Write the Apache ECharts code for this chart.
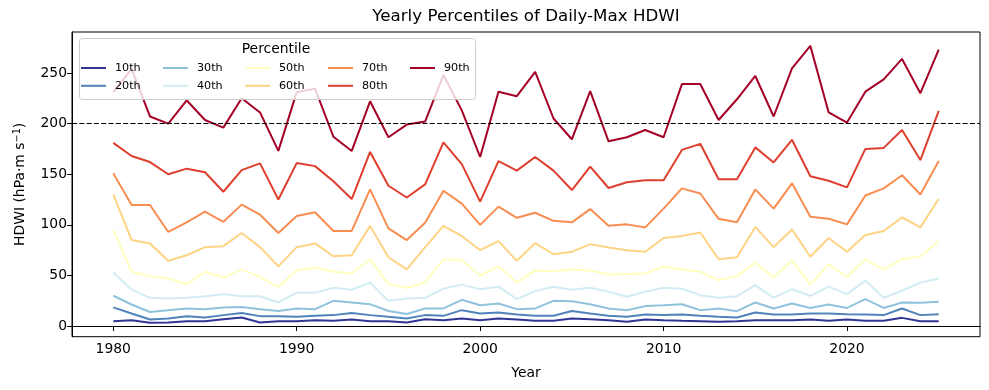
<!DOCTYPE html>
<html><head><meta charset="utf-8">
<script src="https://cdn.jsdelivr.net/npm/echarts@6/dist/echarts.min.js"></script>
<style>html,body{margin:0;padding:0;background:#fff}#c{width:989px;height:390px}</style>
</head><body><div id="c"></div>
<script>
const years = [1980,1981,1982,1983,1984,1985,1986,1987,1988,1989,1990,1991,1992,1993,1994,1995,1996,1997,1998,1999,2000,2001,2002,2003,2004,2005,2006,2007,2008,2009,2010,2011,2012,2013,2014,2015,2016,2017,2018,2019,2020,2021,2022,2023,2024,2025];
const p10 = [4.9,5.9,3.3,3.6,4.9,4.9,6.9,8.6,3.6,4.9,4.9,5.9,5.3,6.6,4.9, 4.9,3.6,6.9,5.9,7.6,5.9,7.6,6.6,5.3,5.3,7.6,6.9,5.9,4.3,6.6,5.9, 5.3,4.9,4.3,4.9,5.9,5.9,5.9,6.6,5.3,6.6,5.3,5.3,8.2,4.9,4.9];
const p20 = [18.5,12.5,6.6,7.6,9.9,8.6,10.9,13,9.9,9.9,9.2,10.2,10.9,13,10.9, 9.2,7.6,10.9,10.2,15.8,12.5,13.5,11.5,10.2,10.2,15,12.5,10.2,9.2,11.5,10.9, 11.5,10.2,9.2,8.6,13.5,11.5,11.5,12.5,12.5,11.8,11.5,10.9,17.5,10.9,11.8];
const p30 = [30,21.4,14,15.8,17.5,16.8,18.5,19,16.8,15,17.5,16.8,25,23.4,21.7, 15,12,17.5,17.5,26,20.7,22.4,16.8,17.5,25,24.7,21.7,17.5,15.8,19.8,20.7, 21.7,15.8,17.5,14.8,23.4,17.5,22.4,18,21.4,18,26.7,18,23.4,23,24];
const p40 = [53,36,28,27.3,28,29.6,31.6,29.6,29.6,23.4,33,33,38,36,43, 25,27.3,28,37,41,36.5,39,26.7,34.6,39,36,38,34,29,34,38, 37,30.6,28,29.6,40.5,28,36.5,30,39,31.6,45,28,35,43,47];
const p50 = [95.5,53.7,49.4,47,41.5,53.7,48,56,48.7,38.8,55,57.6,54,52,66, 41.5,38,43,66,65,50,59,43,55,54.3,56,55,51,51.4,52,59, 56,53.7,45.5,49.4,62.6,48,65,41,61,48.7,66,56,66,69,84];
const p60 = [130,85,81.7,64.5,70,78,79,92,78,59,78,81.7,69,70,99, 68,56,78,99,89,75,84,64.5,82,71,73.4,81,77.7,75,73.4,87, 89,92.5,66,68,98,78,95.5,68.5,87,73.4,90,94,107.4,97.5,125.5];
const p70 = [151,119.6,119.6,93,102.5,113,103,120,110,92,108.7,112.4,94,94,135, 96.5,85,102,133.7,121,100,118,107,112,104,102.5,115.6,99.2,100.5,97.5,116, 136,131,106,102.5,135,116,141,108,106,100.5,129,136,149,130,163];
const p80 = [181,168,162,150,155.5,152,132.7,154,160.7,125,161,158,143,125.5,172, 138.6,127,140,181.5,160,123,163,153.5,167,153.5,134.4,157.5,136.4,142,144,144, 174,180,145,145,176.5,161.6,184,148,143.6,137,175,176,193.7,164,212.5];
const p90 = [231,254,207,200,223,203.5,196,225,211,173,231,234.5,187,173,222, 186.5,199,202,248,213,167,231.5,227,251,205,184.5,232,182.5,186.5,193.7,186.5, 239,239,203.5,224,247,207,254.5,276.7,211,201,231.5,243.7,263.8,230,273];
const seriesNames = ['10th','20th','30th','40th','50th','60th','70th','80th','90th'];
const seriesValues = [p10,p20,p30,p40,p50,p60,p70,p80,p90];
const seriesColors = ['#313695','#5183bb','#8fc3dd','#d3ecf4','#ffffbf','#fed384','#f88d52','#de3f2e','#a50026'];
const xTicks = [1980,1990,2000,2010,2020];
const yTicks = [0,50,100,150,200,250];
const threshold = 200;
const legendColumns = [['10th','20th'],['30th','40th'],['50th','60th'],['70th','80th'],['90th']];

const FONT = 'DejaVu Sans';
const chart = echarts.init(document.getElementById('c'));
const series = seriesNames.map((n, i) => ({
  name: n, type: 'line', symbol: 'none', animation: false,
  data: years.map((y, j) => [y, seriesValues[i][j]]),
  lineStyle: { color: seriesColors[i], width: 2 },
  itemStyle: { color: seriesColors[i] },
  z: 2
}));
series[series.length - 1].markLine = {
  silent: true, symbol: 'none', animation: false,
  label: { show: false },
  lineStyle: { color: '#000', type: [5.1, 2.2], width: 1 },
  data: [{ yAxis: threshold }]
};
const legendLefts = [81, 163, 245, 328, 410];
const legends = legendColumns.map((col, k) => ({
  data: col, orient: 'vertical', left: legendLefts[k], top: 62.5,
  icon: 'rect', itemWidth: 25, itemHeight: 2, itemGap: 6.8, padding: 0,
  selectedMode: false, z: 101,
  textStyle: { fontSize: 11.2, color: '#000', fontFamily: FONT, padding: [0, 0, 0, 4] }
}));
chart.setOption({
  backgroundColor: '#fff',
  animation: false,
  textStyle: { fontFamily: FONT },
  grid: { left: 72, right: 9, top: 32, bottom: 53.3, show: true, borderColor: '#000', borderWidth: 1, backgroundColor: 'transparent' },
  legend: legends,
  graphic: [
    { type: 'rect', left: 79, top: 38, z: 100, shape: { width: 396, height: 61, r: 3 },
      style: { fill: 'rgba(255,255,255,0.8)', stroke: '#cccccc', lineWidth: 1 } },
    { type: 'text', x: 526, y: 17, z: 101,
      style: { text: 'Yearly Percentiles of Daily-Max HDWI', fill: '#000', font: '16.7px "DejaVu Sans"', textAlign: 'center', textVerticalAlign: 'middle' } },
    { type: 'text', x: 276, y: 49, z: 102,
      style: { text: 'Percentile', fill: '#000', font: '13.9px "DejaVu Sans"', textAlign: 'center', textVerticalAlign: 'middle' } }
  ],
  xAxis: {
    type: 'value', min: 1977.75, max: 2027.25,
    name: 'Year', nameLocation: 'middle', nameGap: 30,
    nameTextStyle: { fontSize: 13.9, color: '#000', fontFamily: FONT },
    axisLine: { lineStyle: { color: '#000', width: 1 } },
    axisTick: { show: true, length: 4.9, lineStyle: { color: '#000' }, customValues: xTicks },
    axisLabel: { color: '#000', fontSize: 13.9, fontFamily: FONT, margin: 6, customValues: xTicks, formatter: v => String(v) },
    splitLine: { show: false }
  },
  yAxis: {
    type: 'value', min: -10.4, max: 290.4,
    name: 'HDWI (hPa·m s{sup|−1})', nameLocation: 'middle', nameGap: 44,
    nameTextStyle: { fontSize: 13.9, color: '#000', fontFamily: FONT, lineHeight: 16,
      rich: { sup: { fontSize: 9.7, color: '#000', fontFamily: FONT, verticalAlign: 'top', lineHeight: 10 } } },
    axisLine: { show: true, lineStyle: { color: '#000', width: 1 } },
    axisTick: { show: true, length: 4.9, lineStyle: { color: '#000' }, customValues: yTicks },
    axisLabel: { color: '#000', fontSize: 13.9, fontFamily: FONT, margin: 5, customValues: yTicks, formatter: v => String(v) },
    splitLine: { show: false }
  },
  series: series
});
</script></body></html>
